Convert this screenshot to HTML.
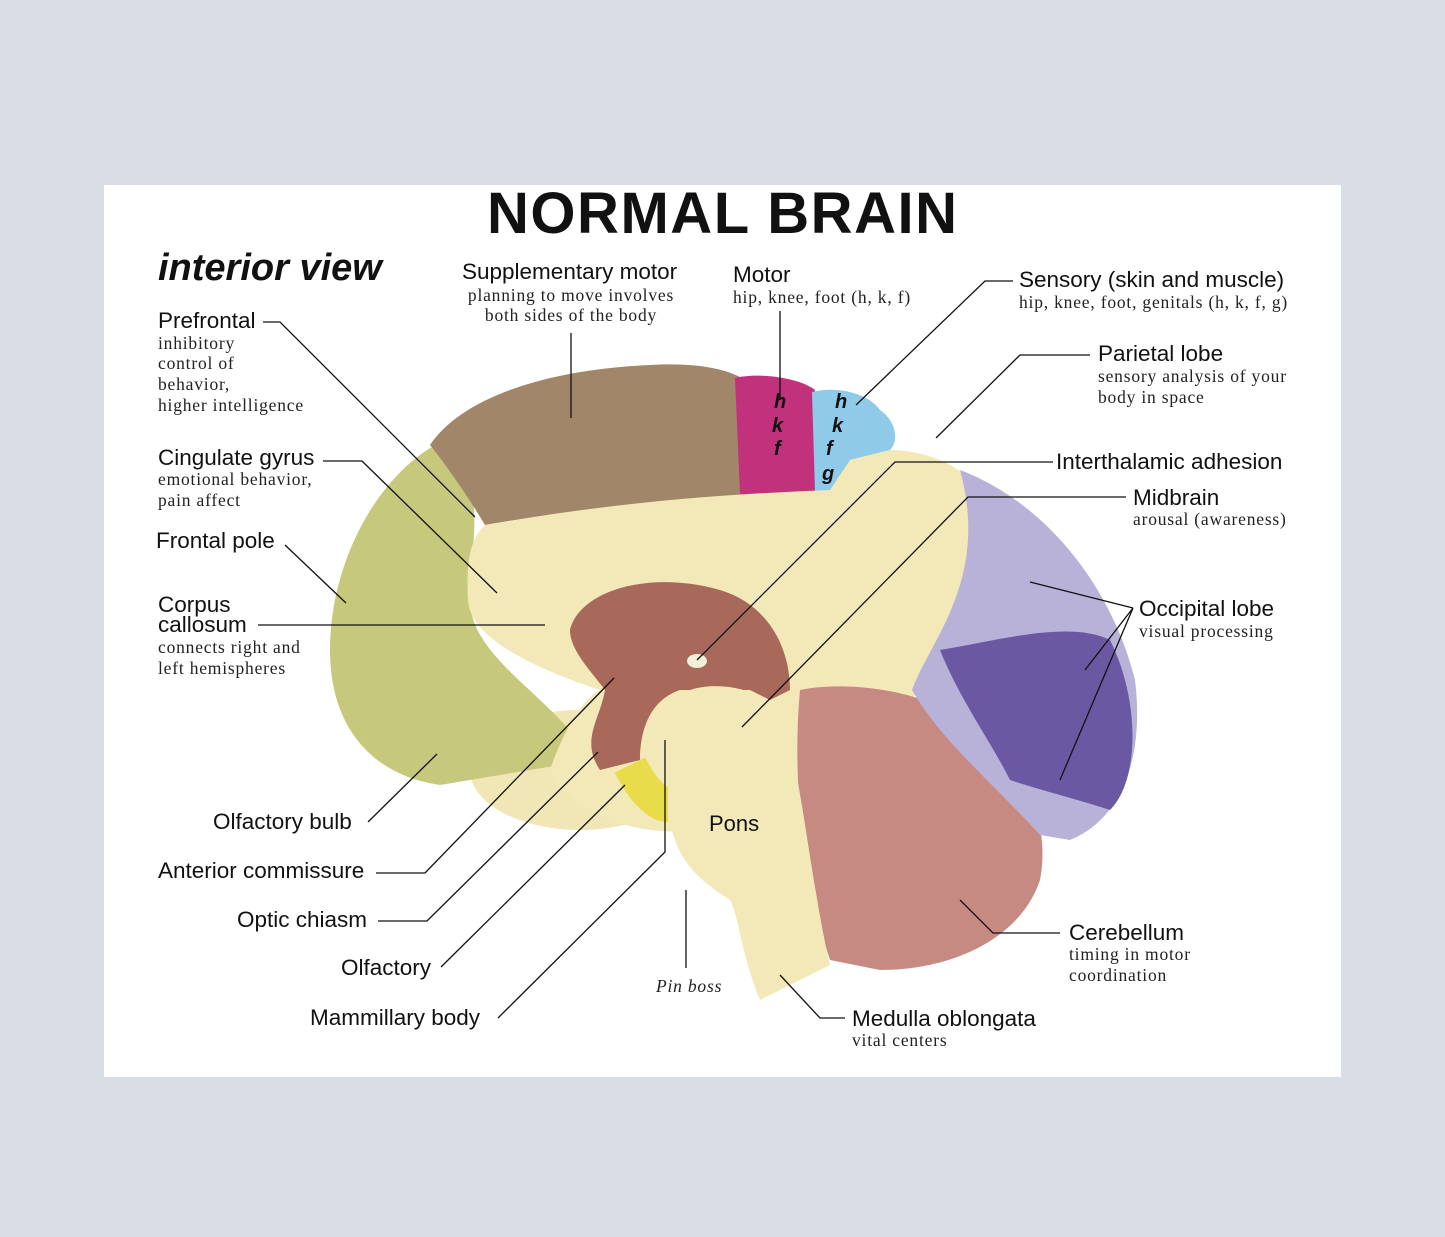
<!DOCTYPE html>
<html><head><meta charset="utf-8"><style>
html,body{margin:0;padding:0;background:#d8dde6;}
svg{display:block}
.t{font-family:"Liberation Sans",sans-serif;fill:#111}
.s{font-family:"Liberation Serif",serif;fill:#222}
</style></head><body>
<svg width="1445" height="1237" viewBox="0 0 1445 1237" xmlns="http://www.w3.org/2000/svg">
<rect width="1445" height="1237" fill="#d8dde6"/>
<rect x="104" y="185" width="1237" height="892" fill="#fff"/>
<text x="722" y="233" text-anchor="middle" font-family="Liberation Sans,sans-serif" font-weight="bold" font-size="58" fill="#111" textLength="470">NORMAL BRAIN</text>
<text x="158" y="280" font-family="Liberation Sans,sans-serif" font-style="italic" font-weight="bold" font-size="38" fill="#111">interior view</text>

<!-- brain -->
<ellipse cx="580" cy="770" rx="110" ry="60" fill="#f1e6b6"/>
<path d="M445,440 C380,470 330,560 330,650 C330,725 370,775 440,785 L590,760 C560,700 470,660 470,600 C470,540 490,490 445,440Z" fill="#c6c97c"/>
<path d="M430,445 C460,400 540,370 650,365 C700,362 730,370 745,380 L748,495 C700,500 600,505 485,525 C470,500 450,470 430,445Z" fill="#a2866a"/>
<path d="M735,378 C760,372 800,378 815,390 L818,492 C790,496 760,496 740,494Z" fill="#c2317c"/>
<path d="M812,392 C840,385 870,395 880,410 C895,420 900,440 890,450 L850,460 L845,490 L815,492Z" fill="#8fcbe8"/>
<path d="M485,525 C600,505 700,495 830,490 L850,460 L890,450 C930,450 980,470 1000,520 C1000,600 960,660 910,700 L870,760 L830,800 L700,830 C620,840 560,800 550,770 C560,740 580,700 600,690 C540,670 470,640 468,600 C466,560 470,540 485,525Z" fill="#f2e8b8"/>
<path d="M800,690 C850,680 930,690 980,730 C1030,770 1050,830 1040,880 C1020,940 950,970 880,970 L830,960 C810,900 790,800 800,690Z" fill="#c68a82"/>
<path d="M960,470 C1040,500 1110,580 1135,680 C1145,760 1120,820 1070,840 L1040,835 C1000,790 940,740 912,690 C930,640 990,580 960,470Z" fill="#b9b2d8"/>
<path d="M940,650 C1000,640 1070,620 1110,640 C1140,700 1140,780 1110,810 C1080,800 1040,790 1010,780 C990,740 960,700 940,650Z" fill="#6b58a2"/>
<path d="M570,630 C580,590 650,570 720,590 C770,605 790,650 790,690 L770,700 L750,690 L680,690 C650,700 640,730 640,760 L600,770 C580,740 600,720 605,690 C590,670 570,650 570,630Z" fill="#a8685a"/>
<path d="M690,690 C720,680 760,690 780,710 C800,760 810,880 830,965 L760,1000 C740,950 740,920 730,900 C700,880 670,860 668,800 C668,760 670,720 690,690Z" fill="#f2e8b8"/>
<path d="M630,765 C645,795 660,805 668,805" stroke="#e8dc4a" stroke-width="34" fill="none"/>
<ellipse cx="697" cy="661" rx="10" ry="7" fill="#eef0d8"/>
<g font-family="Liberation Sans,sans-serif" font-style="italic" font-weight="bold" font-size="20" fill="#111">
<text x="774" y="408">h</text><text x="772" y="432">k</text><text x="774" y="455">f</text>
<text x="835" y="408">h</text><text x="832" y="432">k</text><text x="826" y="455">f</text><text x="822" y="480">g</text>
</g>
<text x="709" y="831" class="t" font-size="22">Pons</text>

<!-- leader lines -->
<g stroke="#111" stroke-width="1.3" fill="none">
<path d="M263,322 H280 L475,517"/>
<path d="M323,461 H362 L497,593"/>
<path d="M285,545 L346,603"/>
<path d="M258,625 H545"/>
<path d="M368,822 L437,754"/>
<path d="M376,873 H425 L614,678"/>
<path d="M378,921 H427 L598,752"/>
<path d="M441,967 L625,785"/>
<path d="M498,1018 L665,852 V740"/>
<path d="M571,333 V418"/>
<path d="M780,311 V400"/>
<path d="M1013,281 H985 L856,405"/>
<path d="M1090,355 H1020 L936,438"/>
<path d="M1053,462 H895 L697,660"/>
<path d="M1126,497 H968 L742,727"/>
<path d="M1133,608 L1030,582 M1133,608 L1085,670 M1133,608 L1060,780"/>
<path d="M1060,933 H993 L960,900"/>
<path d="M845,1018 H820 L780,975"/>
<path d="M686,968 V890"/>
</g>

<!-- labels -->
<g class="t" font-size="22.5">
<text x="462" y="279">Supplementary motor</text>
<text x="733" y="282">Motor</text>
<text x="1019" y="287">Sensory (skin and muscle)</text>
<text x="1098" y="361">Parietal lobe</text>
<text x="1056" y="469">Interthalamic adhesion</text>
<text x="1133" y="505">Midbrain</text>
<text x="1139" y="616">Occipital lobe</text>
<text x="1069" y="940">Cerebellum</text>
<text x="852" y="1026">Medulla oblongata</text>
<text x="158" y="328">Prefrontal</text>
<text x="158" y="465">Cingulate gyrus</text>
<text x="156" y="548">Frontal pole</text>
<text x="158" y="612">Corpus</text>
<text x="158" y="632">callosum</text>
<text x="213" y="829">Olfactory bulb</text>
<text x="158" y="878">Anterior commissure</text>
<text x="237" y="927">Optic chiasm</text>
<text x="341" y="975">Olfactory</text>
<text x="310" y="1025">Mammillary body</text>
</g>
<g class="s" font-size="17.5" letter-spacing="0.8">
<text x="571" y="301" text-anchor="middle">planning to move involves</text>
<text x="571" y="321" text-anchor="middle">both sides of the body</text>
<text x="733" y="303">hip, knee, foot (h, k, f)</text>
<text x="1019" y="308">hip, knee, foot, genitals (h, k, f, g)</text>
<text x="1098" y="382">sensory analysis of your</text>
<text x="1098" y="403">body in space</text>
<text x="1133" y="525">arousal (awareness)</text>
<text x="1139" y="637">visual processing</text>
<text x="1069" y="960">timing in motor</text>
<text x="1069" y="981">coordination</text>
<text x="852" y="1046">vital centers</text>
<text x="158" y="349">inhibitory</text>
<text x="158" y="369">control of</text>
<text x="158" y="390">behavior,</text>
<text x="158" y="411">higher intelligence</text>
<text x="158" y="485">emotional behavior,</text>
<text x="158" y="506">pain affect</text>
<text x="158" y="653">connects right and</text>
<text x="158" y="674">left hemispheres</text>
<text x="656" y="992" font-style="italic">Pin boss</text>
</g>
</svg>
</body></html>
